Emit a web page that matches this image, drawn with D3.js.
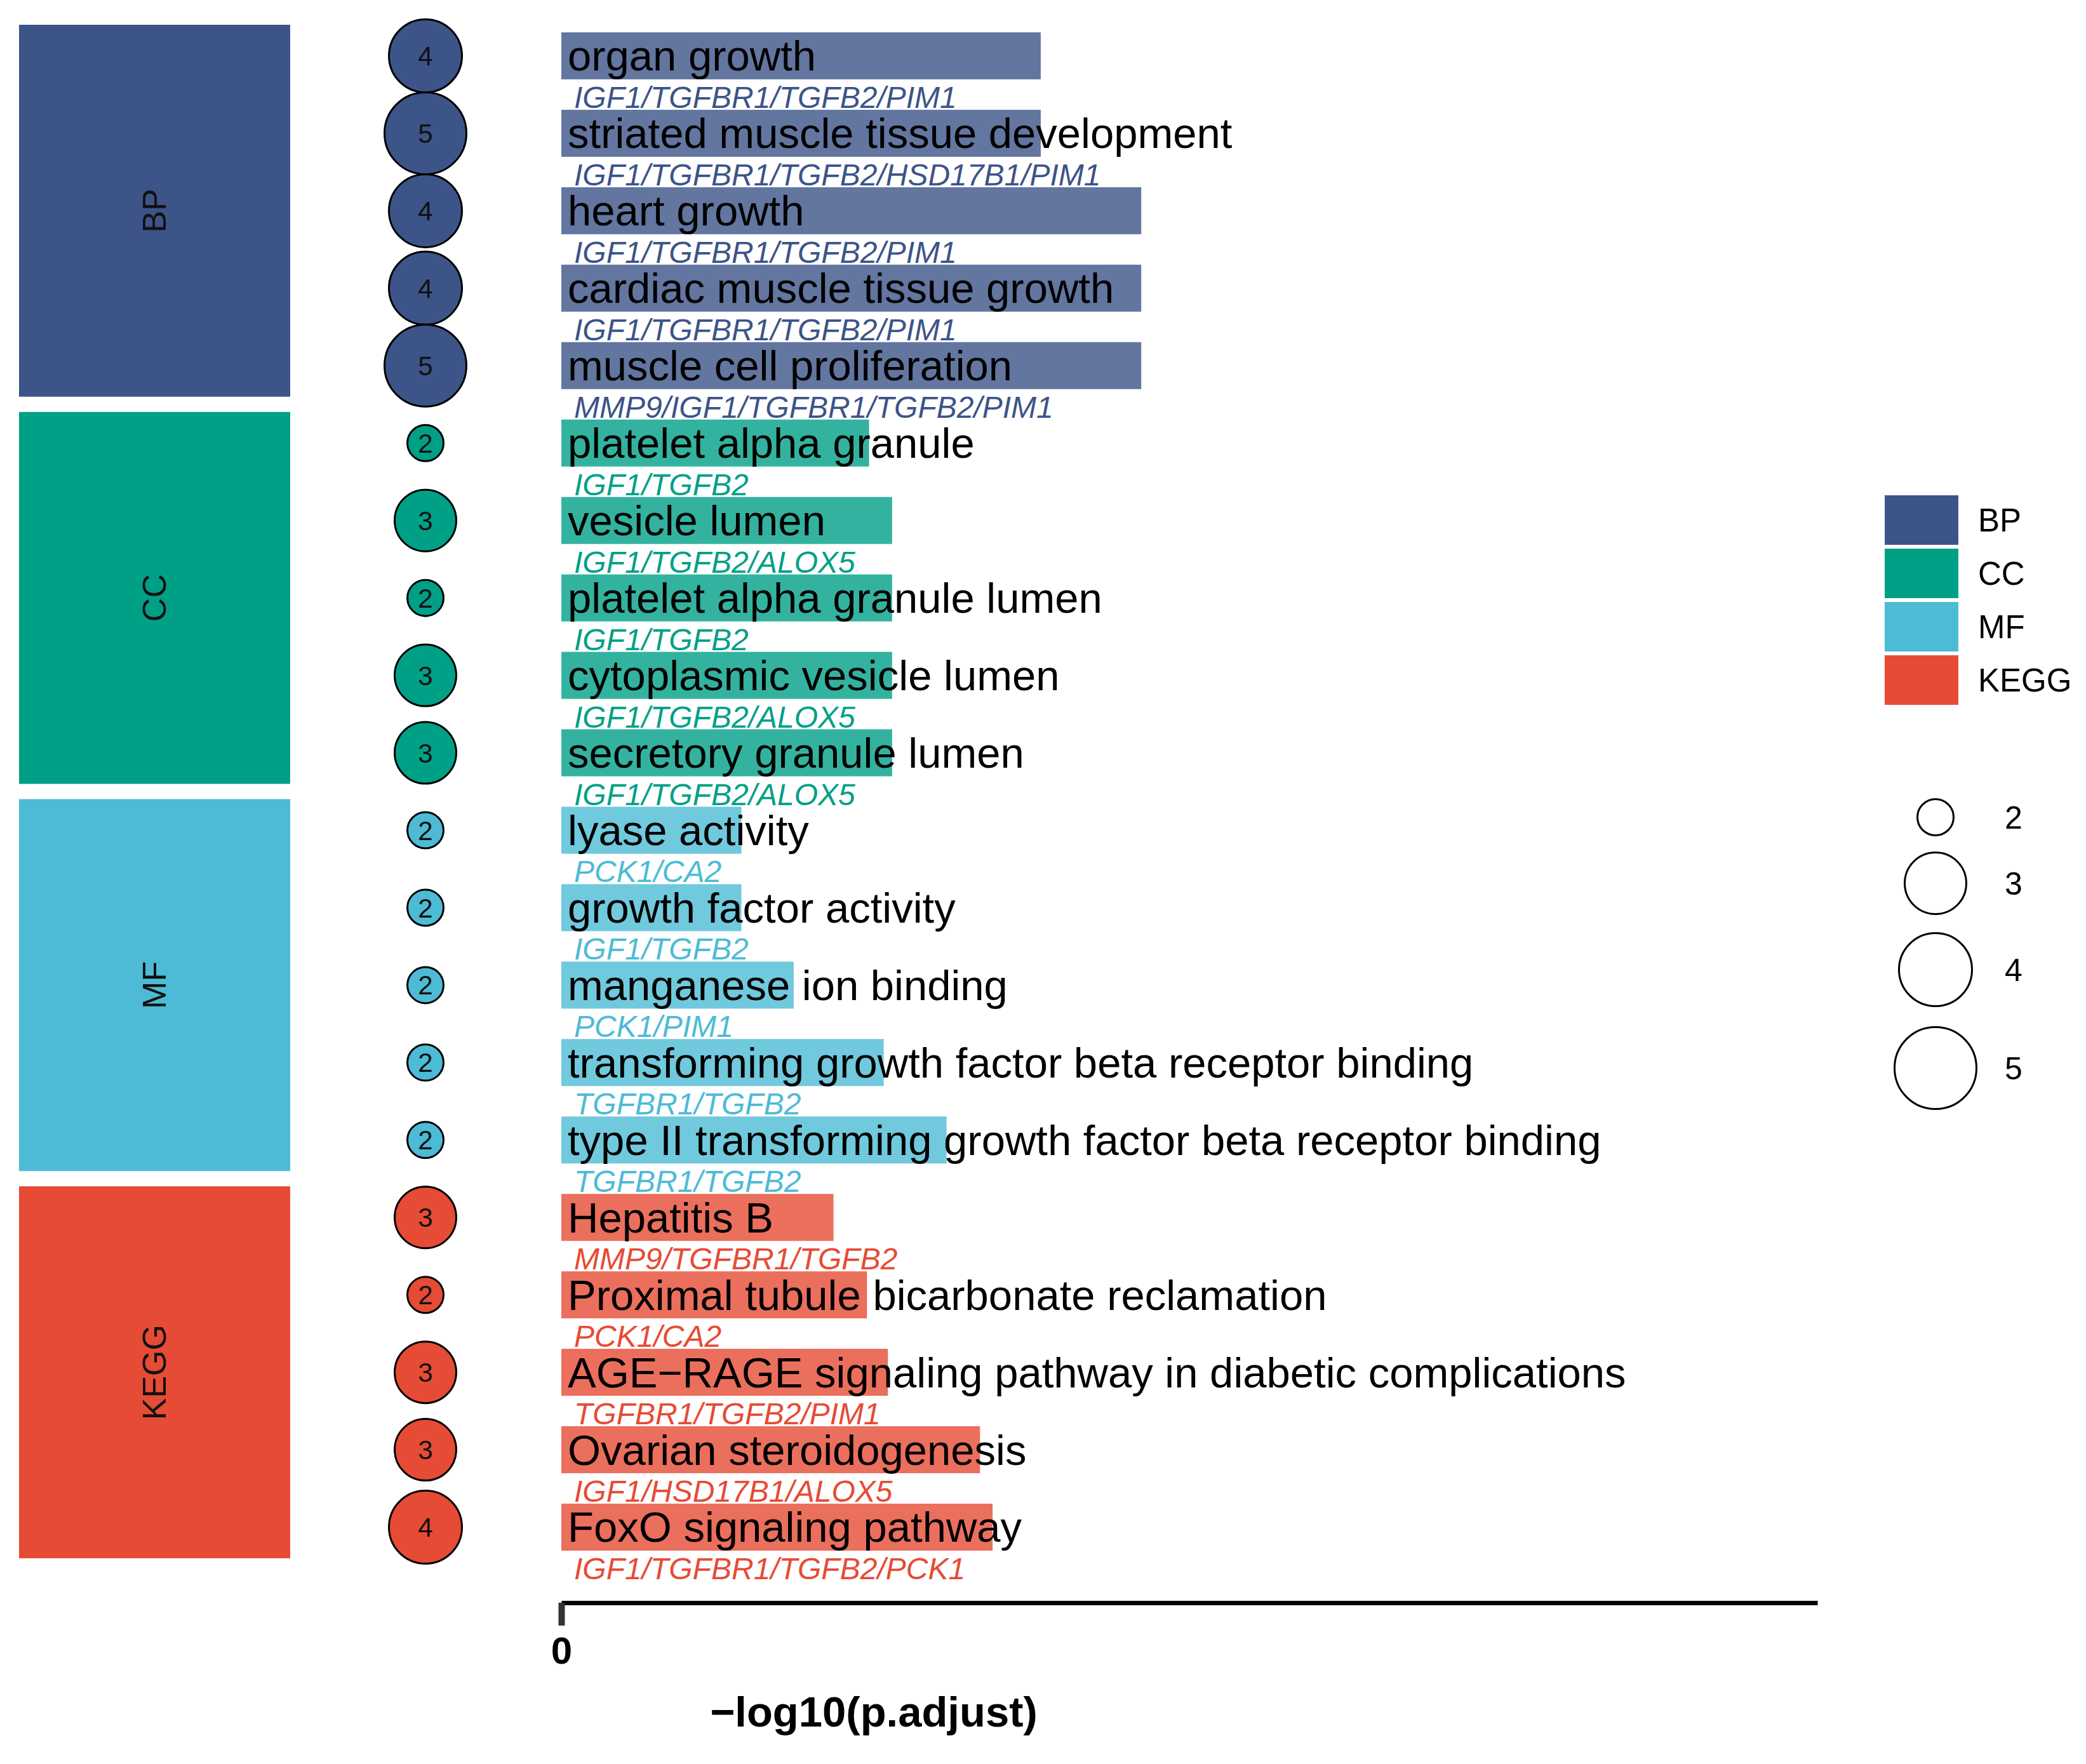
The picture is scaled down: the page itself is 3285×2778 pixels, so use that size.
<!DOCTYPE html>
<html><head><meta charset="utf-8">
<script src="https://cdn.jsdelivr.net/npm/d3@7"></script>
<style>body{margin:0;background:#fff;} svg{display:block;} text{font-family:"Liberation Sans",Arial,sans-serif;}</style>
</head><body>
<script>
// ---- data ----
const terms = [
  "organ growth","striated muscle tissue development","heart growth","cardiac muscle tissue growth","muscle cell proliferation",
  "platelet alpha granule","vesicle lumen","platelet alpha granule lumen","cytoplasmic vesicle lumen","secretory granule lumen",
  "lyase activity","growth factor activity","manganese ion binding","transforming growth factor beta receptor binding","type II transforming growth factor beta receptor binding",
  "Hepatitis B","Proximal tubule bicarbonate reclamation","AGE\u2212RAGE signaling pathway in diabetic complications","Ovarian steroidogenesis","FoxO signaling pathway"
];
const termCategory = [
  "BP","BP","BP","BP","BP",
  "CC","CC","CC","CC","CC",
  "MF","MF","MF","MF","MF",
  "KEGG","KEGG","KEGG","KEGG","KEGG"
];
const geneCount = [4,5,4,4,5, 2,3,2,3,3, 2,2,2,2,2, 3,2,3,3,4];
const negLogP = [2.29,2.29,2.77,2.77,2.77, 1.47,1.58,1.58,1.58,1.58, 0.86,0.86,1.11,1.54,1.84, 1.30,1.46,1.56,2.00,2.06];
const geneIDs = [
  "IGF1/TGFBR1/TGFB2/PIM1","IGF1/TGFBR1/TGFB2/HSD17B1/PIM1","IGF1/TGFBR1/TGFB2/PIM1","IGF1/TGFBR1/TGFB2/PIM1","MMP9/IGF1/TGFBR1/TGFB2/PIM1",
  "IGF1/TGFB2","IGF1/TGFB2/ALOX5","IGF1/TGFB2","IGF1/TGFB2/ALOX5","IGF1/TGFB2/ALOX5",
  "PCK1/CA2","IGF1/TGFB2","PCK1/PIM1","TGFBR1/TGFB2","TGFBR1/TGFB2",
  "MMP9/TGFBR1/TGFB2","PCK1/CA2","TGFBR1/TGFB2/PIM1","IGF1/HSD17B1/ALOX5","IGF1/TGFBR1/TGFB2/PCK1"
];
const groupNames = ["BP","CC","MF","KEGG"];
const groupColors = ["#3C5488","#00A087","#4DBBD5","#E64B35"];
const sizeLegendValues = [2,3,4,5];
const xTickValues = [0];
const xTitle = "\u2212log10(p.adjust)";

// ---- setup ----
const W = 3285, H = 2778;
const svg = d3.select("body").append("svg").attr("width", W).attr("height", H);
svg.append("rect").attr("width", W).attr("height", H).attr("fill", "#fff");

const rows = terms.map((t,i)=>({term:t, cat:termCategory[i], count:geneCount[i], v:negLogP[i], genes:geneIDs[i], i}));

const y = d3.scaleBand().domain(d3.range(terms.length)).range([27, 2466]).paddingInner(0).paddingOuter(0);
const x = d3.scaleLinear().domain([0, 6]).range([884, 2862]);
const color = d3.scaleOrdinal().domain(groupNames).range(groupColors);
const r = d3.scaleLinear().domain(sizeLegendValues).range([28.5, 48.5, 57.5, 64.5]);
const step = y.step();
const cy = i => y(i) + step/2;
const barH = step * 0.607;

// ---- category blocks ----
const blocks = groupNames.map(g => {
  const idx = rows.filter(d => d.cat === g).map(d => d.i);
  return {g, top: y(d3.min(idx)), bottom: y(d3.max(idx)) + step};
});
const gBlocks = svg.append("g");
gBlocks.selectAll("rect").data(blocks).join("rect")
  .attr("x", 30).attr("width", 427)
  .attr("y", d => d.top + 12).attr("height", d => d.bottom - d.top - 24)
  .attr("fill", d => color(d.g));
gBlocks.selectAll("text").data(blocks).join("text")
  .attr("transform", d => `translate(${243},${(d.top + d.bottom)/2}) rotate(-90)`)
  .attr("text-anchor", "middle").attr("dy", "0.35em")
  .attr("font-size", 52).attr("fill", "#111")
  .text(d => d.g);

// ---- bars ----
svg.append("g").selectAll("rect").data(rows).join("rect")
  .attr("x", x(0)).attr("y", d => cy(d.i) - barH/2)
  .attr("width", d => x(d.v) - x(0)).attr("height", barH)
  .attr("fill", d => color(d.cat)).attr("fill-opacity", 0.8);

// ---- term labels ----
svg.append("g").selectAll("text").data(rows).join("text")
  .attr("x", x(0) + 10).attr("y", d => cy(d.i)).attr("dy", "0.35em")
  .attr("font-size", 67).attr("fill", "#000")
  .text(d => d.term);

// ---- gene labels ----
svg.append("g").selectAll("text").data(rows).join("text")
  .attr("x", x(0) + 20).attr("y", d => cy(d.i) + 82)
  .attr("font-size", 48).attr("font-style", "italic")
  .attr("fill", d => color(d.cat))
  .text(d => d.genes);

// ---- circles ----
const gC = svg.append("g");
gC.selectAll("circle").data(rows).join("circle")
  .attr("cx", 670).attr("cy", d => cy(d.i)).attr("r", d => r(d.count))
  .attr("fill", d => color(d.cat)).attr("stroke", "#000").attr("stroke-width", 3);
gC.selectAll("text").data(rows).join("text")
  .attr("x", 670).attr("y", d => cy(d.i)).attr("dy", "0.36em")
  .attr("text-anchor", "middle").attr("font-size", 42).attr("fill", "#111")
  .text(d => d.count);

// ---- x axis ----
const axis = d3.axisBottom(x).tickValues(xTickValues).tickFormat(d3.format("d")).tickSize(36).tickSizeOuter(0).tickPadding(17);
const gAx = svg.append("g").attr("transform", "translate(0,2524)").call(axis);
gAx.select(".domain").attr("stroke", "#000").attr("stroke-width", 7);
gAx.selectAll(".tick line").attr("stroke", "#333").attr("stroke-width", 10);
gAx.selectAll(".tick text").attr("font-size", 60).attr("font-weight", "bold").attr("fill", "#000")
  .attr("font-family", "Liberation Sans, Arial, sans-serif");
svg.append("text").attr("x", 1376).attr("y", 2719).attr("text-anchor", "middle")
  .attr("font-size", 67).attr("font-weight", "bold").attr("fill", "#000").text(xTitle);

// ---- legend: categories ----
const gL = svg.append("g");
gL.selectAll("rect").data(groupNames).join("rect")
  .attr("x", 2968).attr("width", 116)
  .attr("y", (d,i) => 780 + i*84).attr("height", 78)
  .attr("fill", d => color(d));
gL.selectAll("text").data(groupNames).join("text")
  .attr("x", 3115).attr("y", (d,i) => 780 + i*84 + 39).attr("dy", "0.35em")
  .attr("font-size", 51).attr("fill", "#000").text(d => d);

// ---- legend: sizes ----
const sizeY = [1287, 1391, 1527, 1682];
const gS = svg.append("g");
gS.selectAll("circle").data(sizeLegendValues).join("circle")
  .attr("cx", 3048).attr("cy", (d,i) => sizeY[i]).attr("r", d => r(d))
  .attr("fill", "#fff").attr("stroke", "#000").attr("stroke-width", 3);
gS.selectAll("text").data(sizeLegendValues).join("text")
  .attr("x", 3171).attr("y", (d,i) => sizeY[i]).attr("dy", "0.35em")
  .attr("text-anchor", "middle").attr("font-size", 50).attr("fill", "#000").text(d => d);
</script>
</body></html>
